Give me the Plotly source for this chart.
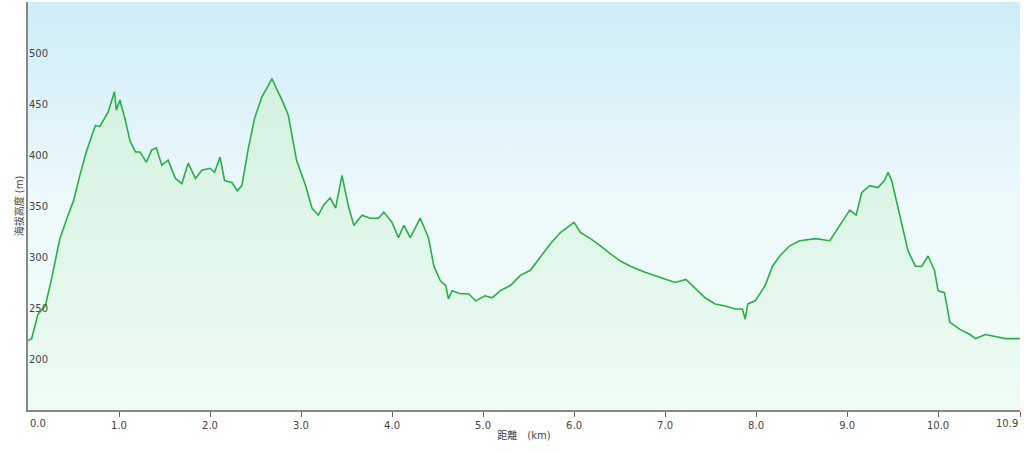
import plotly.graph_objects as go

# distance (km) and elevation (m)
dist_km = [0.0, 0.04, 0.11, 0.19, 0.26, 0.35, 0.44, 0.5, 0.57, 0.64, 0.74, 0.79, 0.88, 0.92, 0.95, 0.97,
           1.01, 1.07, 1.12, 1.18, 1.23, 1.30, 1.36, 1.41, 1.47, 1.54, 1.62, 1.69, 1.76, 1.84, 1.91, 2.0,
           2.05, 2.11, 2.16, 2.24, 2.30, 2.35, 2.42, 2.49, 2.57, 2.64, 2.68, 2.73, 2.79, 2.86, 2.90, 2.95,
           2.99, 3.05, 3.12, 3.19, 3.25, 3.32, 3.38, 3.45, 3.52, 3.58, 3.67, 3.76, 3.85, 3.91, 4.0, 4.07,
           4.13, 4.20, 4.31, 4.40, 4.46, 4.53, 4.59, 4.62, 4.66, 4.75, 4.84, 4.92, 5.02, 5.10, 5.19, 5.30,
           5.41, 5.52, 5.63, 5.74, 5.85, 5.96, 6.0, 6.07, 6.18, 6.29, 6.40, 6.51, 6.62, 6.78, 6.95, 7.11,
           7.23, 7.33, 7.44, 7.55, 7.66, 7.77, 7.85, 7.88, 7.91, 7.99, 8.10, 8.18, 8.26, 8.37, 8.48, 8.65,
           8.81, 8.92, 9.03, 9.10, 9.16, 9.25, 9.34, 9.41, 9.45, 9.49, 9.54, 9.60, 9.67, 9.75, 9.82, 9.89,
           9.96, 10.0, 10.07, 10.13, 10.24, 10.35, 10.41, 10.52, 10.63, 10.74, 10.9]
elev_m = [218, 220, 244, 252, 279, 318, 341, 355, 380, 403, 429, 428, 442, 454, 462, 444,
          454, 434, 414, 403, 403, 393, 405, 407, 390, 395, 377, 372, 392, 377, 385, 387,
          383, 398, 375, 373, 365, 370, 406, 436, 457, 468, 475, 465, 454, 439, 419, 395,
          385, 370, 348, 341, 351, 358, 348, 380, 350, 331, 341, 338, 338, 344, 334, 319,
          331, 319, 338, 319, 291, 277, 272, 259, 267, 264, 264, 257, 262, 260, 267, 272,
          282, 287, 300, 313, 324, 331, 334, 324, 318, 311, 303, 296, 291, 285, 280, 275,
          278, 269, 260, 254, 252, 249, 249, 239, 254, 257, 272, 291, 301, 311, 316, 318,
          316, 331, 346, 341, 363, 370, 368, 375, 383, 375, 355, 331, 306, 291, 291, 301,
          287, 267, 265, 236, 229, 224, 220, 224, 222, 220, 220]

x_ticks = [0, 1, 2, 3, 4, 5, 6, 7, 8, 9, 10, 10.9]
x_labels = ["0.0", "1.0", "2.0", "3.0", "4.0", "5.0", "6.0", "7.0", "8.0", "9.0", "10.0", "10.9"]
y_ticks = [200, 250, 300, 350, 400, 450, 500]

fig = go.Figure()
# background gradient
fig.add_trace(go.Scatter(
    x=[0, 10.9], y=[550, 550], mode="lines", line=dict(width=0), fill="tozeroy",
    fillgradient=dict(type="vertical", start=150, stop=550,
                      colorscale=[[0, "#effdf5"], [0.5, "#eef9fb"], [1, "#cdedf8"]]),
    hoverinfo="skip", showlegend=False))
fig.add_trace(go.Scatter(
    x=dist_km, y=elev_m, mode="lines", line=dict(color="#2aae48", width=1.6),
    fill="tozeroy",
    fillgradient=dict(type="vertical", start=150, stop=475,
                      colorscale=[[0, "#effcf4"], [1, "#d2f1e0"]]),
    showlegend=False))

# end labels drawn as annotations so they stay inside the page
inner_text = [t if 0 < v < 10.9 else "" for v, t in zip(x_ticks, x_labels)]
fig.add_annotation(x=x_ticks[0], y=0, yref="paper", text=x_labels[0], showarrow=False,
                   xanchor="left", yanchor="top", yshift=-6, font=dict(size=10, color="#444"))
fig.add_annotation(x=x_ticks[-1], y=0, yref="paper", text=x_labels[-1], showarrow=False,
                   xanchor="right", yanchor="top", yshift=-6, font=dict(size=10, color="#444"))

fig.update_layout(
    width=1024, height=453, margin=dict(l=28, r=4, t=2, b=43),
    paper_bgcolor="white", plot_bgcolor="white",
    font=dict(family="DejaVu Sans, Noto Sans CJK SC", size=10, color="#444"),
    xaxis=dict(range=[0, 10.9], tickvals=x_ticks, ticktext=inner_text, showgrid=False,
               ticks="outside", ticklen=5, tickcolor="#666", showline=True, linecolor="#888",
               linewidth=2, zeroline=False, automargin=False,
               title=dict(text="距離　(km)", font=dict(size=10), standoff=2)),
    yaxis=dict(range=[150, 550], tickvals=y_ticks, ticklabelposition="inside",
               showgrid=True, gridcolor="#d6dfe1", showline=True, linecolor="#888",
               linewidth=2, zeroline=False, ticks="", automargin=False,
               title=dict(text="海拔高度 (m)", font=dict(size=10), standoff=4)),
)
fig.write_html("out.html", config={"displayModeBar": False},
               post_script="document.body.style.margin='0';")
